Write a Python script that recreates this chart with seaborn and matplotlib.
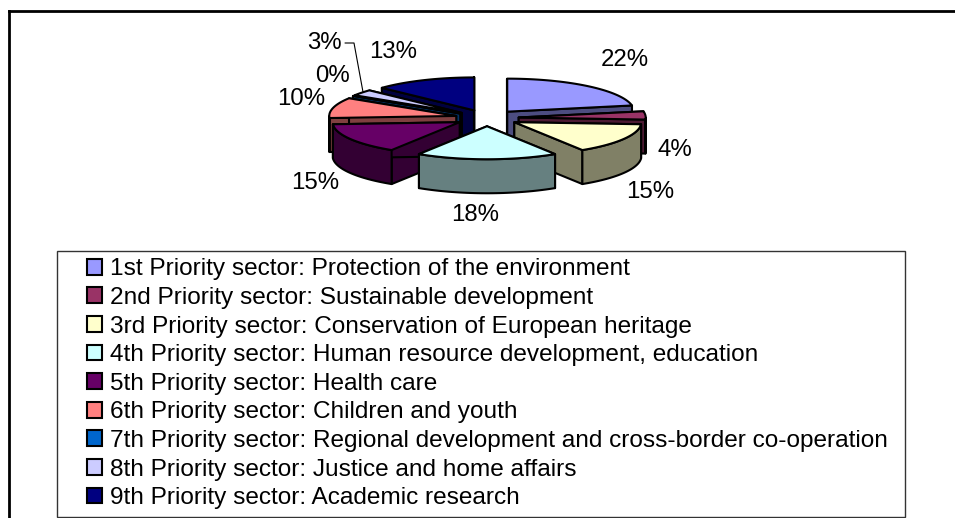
import numpy as np
import matplotlib
matplotlib.use("Agg")
import matplotlib.pyplot as plt
from matplotlib.patches import Polygon, Patch, Rectangle
import seaborn as sns

# values of the pie, in percent, clockwise from 12 o'clock
sectors = [
    "1st Priority sector: Protection of the environment",
    "2nd Priority sector: Sustainable development",
    "3rd Priority sector: Conservation of European heritage",
    "4th Priority sector: Human resource development, education",
    "5th Priority sector: Health care",
    "6th Priority sector: Children and youth",
    "7th Priority sector: Regional development and cross-border co-operation",
    "8th Priority sector: Justice and home affairs",
    "9th Priority sector: Academic research",
]
shares = [22, 4, 15, 18, 15, 10, 0, 3, 13]
top_colors = ["#9999FF", "#993366", "#FFFFCC", "#CCFFFF", "#660066",
              "#FF8080", "#0066CC", "#CCCCFF", "#000080"]

# where each percent label sits, in pixels of the picture
label_xy = [(625, 60), (675, 150), (650, 192), (475, 215), (315, 183),
            (301, 99), (332, 76), (324, 43), (393, 52)]

# pie geometry in pixels
cx, cy = 487, 118
rx, ry = 127, 33
depth = 34
explode = 0.25

sns.set_theme(style="white")
plt.rcParams["font.family"] = ["Liberation Sans", "DejaVu Sans"]
palette = sns.color_palette(top_colors)

fig = plt.figure(figsize=(9.55, 5.18), dpi=100)
ax = fig.add_axes([9 / 955, 0, 946 / 955, 507 / 518])
ax.set_xlim(9, 955)
ax.set_ylim(518, 11)
ax.set_xticks([])
ax.set_yticks([])
sns.despine(ax=ax, top=False, left=False, right=True, bottom=True)
for side in ["top", "left"]:
    ax.spines[side].set_linewidth(2)
    ax.spines[side].set_color("black")


def rim(apex, angles):
    a = np.radians(angles)
    return np.column_stack([apex[0] + rx * np.sin(a), apex[1] - ry * np.cos(a)])


def draw_slice(start, end, color, order):
    mid = np.radians((start + end) / 2)
    apex = np.array([cx + explode * rx * np.sin(mid), cy - explode * ry * np.cos(mid)])
    side = tuple(c * 0.5 for c in color)
    style = dict(edgecolor="black", linewidth=1.5, joinstyle="round", zorder=order)
    down = np.array([0, depth])

    # the two cut faces, the wall and the top hide each other in this order
    for angle in [start, end]:
        corner = rim(apex, [angle])[0]
        ax.add_patch(Polygon([apex, corner, corner + down, apex + down], facecolor=side, **style))

    lo, hi = max(start, 90), min(end, 270)
    if hi > lo:
        arc = rim(apex, np.linspace(lo, hi, 40))
        ax.add_patch(Polygon(np.vstack([arc, arc[::-1] + down]), facecolor=side, **style))

    arc = rim(apex, np.linspace(start, end, 40))
    ax.add_patch(Polygon(np.vstack([apex, arc]), facecolor=color, **style))


edges = np.concatenate([[0], np.cumsum(shares)]) * 3.6
mids = (edges[:-1] + edges[1:]) / 2
back_to_front = np.argsort(-np.cos(np.radians(mids)))
for order, i in enumerate(back_to_front):
    draw_slice(edges[i], edges[i + 1], palette[i], 2 + order)

for share, (x, y) in zip(shares, label_xy):
    ax.text(x, y, f"{share}%", fontsize=17.3, ha="center", va="center", color="black", zorder=30)

# leader line of the 3% label
ax.plot([345, 354, 363], [43, 43, 92], color="black", lw=0.8, zorder=30)

# legend box
ax.add_patch(Rectangle((57, 251), 848, 266, facecolor="white", edgecolor="#333333", linewidth=1, zorder=1))
handles = [Patch(facecolor=c, edgecolor="black", linewidth=1.5) for c in palette]
ax.legend(handles, sectors, loc="upper left", bbox_to_anchor=(80, 251), bbox_transform=ax.transData,
          frameon=False, fontsize=17.6, labelspacing=0.27, handlelength=0.615, handleheight=0.61,
          handletextpad=0.33, borderpad=0.3, borderaxespad=0, labelcolor="black")

fig.savefig("out.png", dpi=100)
